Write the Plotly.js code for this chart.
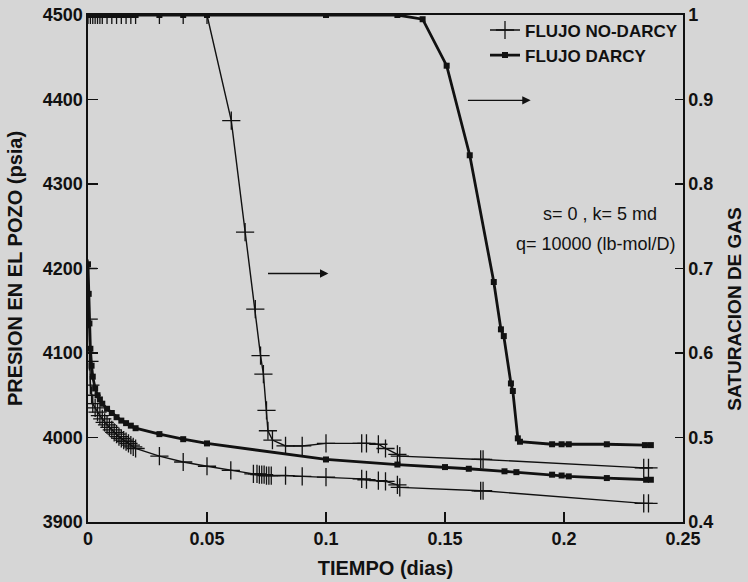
<!DOCTYPE html>
<html>
<head>
<meta charset="utf-8">
<script src="https://cdn.plot.ly/plotly-3.0.1.min.js"></script>
<style>html,body{margin:0;padding:0;background:#d6d6d6;}#chart{width:748px;height:582px;}</style>
</head>
<body>
<div id="chart"></div>
<script>
// ---- Data ----
// Pressure, Darcy flow (psia) vs time (days)
const tPresDarcy = [0, 0.0003, 0.0006, 0.001, 0.0015, 0.002, 0.003, 0.004, 0.005, 0.006, 0.008, 0.010, 0.012, 0.014, 0.016, 0.018, 0.020, 0.030, 0.040, 0.050, 0.100, 0.130, 0.150, 0.160, 0.175, 0.180, 0.195, 0.199, 0.202, 0.218, 0.2345, 0.2365];
const presDarcy  = [4205, 4170, 4135, 4105, 4085, 4072, 4058, 4050, 4045, 4040, 4034, 4029, 4024, 4020, 4017, 4014, 4011, 4004, 3998, 3993, 3974, 3968, 3965, 3963, 3960, 3959, 3956, 3955, 3954, 3952, 3950, 3950];

// Pressure, non-Darcy flow (psia)
const tPresNoDarcy = [0, 0.0003, 0.0006, 0.001, 0.0015, 0.002, 0.003, 0.004, 0.005, 0.006, 0.007, 0.008, 0.009, 0.010, 0.011, 0.012, 0.013, 0.014, 0.015, 0.016, 0.017, 0.018, 0.019, 0.020, 0.030, 0.040, 0.050, 0.060, 0.0695, 0.071, 0.072, 0.073, 0.074, 0.075, 0.076, 0.077, 0.083, 0.090, 0.100, 0.115, 0.117, 0.122, 0.125, 0.130, 0.131, 0.165, 0.166, 0.2335, 0.2355];
const presNoDarcy  = [4200, 4140, 4090, 4062, 4050, 4040, 4035, 4030, 4026, 4022, 4018, 4015, 4012, 4009, 4006, 4004, 4001, 3999, 3997, 3995, 3993, 3991, 3989, 3987, 3978, 3971, 3966, 3961, 3957, 3957, 3956, 3956, 3956, 3955, 3955, 3955, 3955, 3954, 3953, 3951, 3950, 3949, 3948, 3944, 3941, 3937, 3937, 3922, 3922];

// Gas saturation, Darcy flow (fraction)
const tSatDarcy = [0, 0.001, 0.002, 0.003, 0.004, 0.005, 0.006, 0.008, 0.010, 0.012, 0.014, 0.016, 0.018, 0.020, 0.030, 0.040, 0.050, 0.100, 0.130, 0.1406, 0.1507, 0.1604, 0.1705, 0.1735, 0.1747, 0.1777, 0.1785, 0.1806, 0.1815, 0.195, 0.199, 0.202, 0.218, 0.234, 0.2365];
const satDarcy  = [1, 1, 1, 1, 1, 1, 1, 1, 1, 1, 1, 1, 1, 1, 1, 1, 1, 1, 1, 0.995, 0.94, 0.834, 0.684, 0.628, 0.62, 0.564, 0.555, 0.499, 0.495, 0.492, 0.492, 0.492, 0.492, 0.491, 0.491];

// Gas saturation, non-Darcy flow (fraction)
const tSatNoDarcy = [0, 0.001, 0.002, 0.003, 0.004, 0.005, 0.006, 0.008, 0.010, 0.012, 0.014, 0.016, 0.018, 0.020, 0.030, 0.040, 0.050, 0.0602, 0.066, 0.0703, 0.0725, 0.0737, 0.0750, 0.0756, 0.0775, 0.083, 0.090, 0.100, 0.115, 0.117, 0.122, 0.125, 0.130, 0.131, 0.165, 0.166, 0.2335, 0.2355];
const satNoDarcy  = [1, 1, 1, 1, 1, 1, 1, 1, 1, 1, 1, 1, 1, 1, 1, 1, 1, 0.875, 0.743, 0.652, 0.597, 0.575, 0.532, 0.508, 0.497, 0.490, 0.490, 0.493, 0.493, 0.493, 0.492, 0.487, 0.480, 0.478, 0.474, 0.474, 0.464, 0.464];

const seriesNames = ['FLUJO NO-DARCY', 'FLUJO DARCY'];
const xTitle = 'TIEMPO (dias)';
const yTitle = 'PRESION EN EL POZO (psia)';
const y2Title = 'SATURACION DE GAS';
const note1 = 's= 0 , k= 5 md';
const note2 = 'q= 10000 (lb-mol/D)';

// ---- Styles ----
const FONT = '"Liberation Sans", Arial, sans-serif';
const ink = '#111111';
const thinLine = {color: ink, width: 1.4};
const thickLine = {color: ink, width: 2.8};
const crossMarker = {symbol: 'cross-thin-open', size: 13, line: {color: ink, width: 1.3}, color: ink};
const squareMarker = {symbol: 'square', size: 6, color: ink, line: {color: ink, width: 0}};

const traces = [
  {x: tPresNoDarcy, y: presNoDarcy, name: seriesNames[0], mode: 'lines+markers', line: thinLine, marker: crossMarker, yaxis: 'y', showlegend: true},
  {x: tPresDarcy, y: presDarcy, name: seriesNames[1], mode: 'lines+markers', line: thickLine, marker: squareMarker, yaxis: 'y', showlegend: true},
  {x: tSatNoDarcy, y: satNoDarcy, name: seriesNames[0], mode: 'lines+markers', line: thinLine, marker: crossMarker, yaxis: 'y2', showlegend: false},
  {x: tSatDarcy, y: satDarcy, name: seriesNames[1], mode: 'lines+markers', line: thickLine, marker: squareMarker, yaxis: 'y2', showlegend: false}
];

const tickFont = {family: FONT, size: 18, color: ink, weight: 'bold'};
const axisCommon = {
  showline: true, linecolor: ink, linewidth: 1.6,
  ticks: 'inside', ticklen: 10, tickwidth: 1.3, tickcolor: ink,
  showgrid: false, zeroline: false, tickfont: tickFont
};

const layout = {
  width: 748, height: 582,
  paper_bgcolor: '#d6d6d6', plot_bgcolor: '#d6d6d6',
  margin: {l: 88, r: 65, t: 12, b: 60},
  font: {family: FONT, color: ink},
  xaxis: Object.assign({}, axisCommon, {
    range: [0, 0.25], dtick: 0.05, tick0: 0, mirror: true,
    title: {text: xTitle, font: {family: FONT, size: 20, color: ink, weight: 'bold'}, standoff: 13}
  }),
  yaxis: Object.assign({}, axisCommon, {
    range: [3900, 4500], dtick: 100,
    title: {text: yTitle, font: {family: FONT, size: 20, color: ink, weight: 'bold'}, standoff: 15}
  }),
  yaxis2: Object.assign({}, axisCommon, {
    range: [0.4, 1], dtick: 0.1, overlaying: 'y', side: 'right', ticklen: 8
  }),
  legend: {
    x: 1, xanchor: 'right', y: 1.005, yanchor: 'top',
    bgcolor: 'rgba(0,0,0,0)', borderwidth: 0,
    font: {family: FONT, size: 17, color: ink, weight: 'bold'},
    itemwidth: 30, tracegroupgap: 0
  },
  annotations: [
    {xref: 'paper', yref: 'paper', x: 1.085, y: 0.42, text: y2Title, textangle: -90, showarrow: false,
     font: {family: FONT, size: 19, color: ink, weight: 'bold'}, xanchor: 'center', yanchor: 'middle'},
    {xref: 'x', yref: 'y', x: 0.2152, y: 4265, text: note1, showarrow: false,
     font: {family: FONT, size: 18, color: ink}},
    {xref: 'x', yref: 'y', x: 0.2135, y: 4229, text: note2, showarrow: false,
     font: {family: FONT, size: 18, color: ink}},
    {xref: 'x', yref: 'y', axref: 'x', ayref: 'y', x: 0.101, y: 4194, ax: 0.075, ay: 4194,
     showarrow: true, arrowhead: 2, arrowsize: 1.2, arrowwidth: 1.4, arrowcolor: ink, text: ''},
    {xref: 'x', yref: 'y', axref: 'x', ayref: 'y', x: 0.186, y: 4399, ax: 0.159, ay: 4399,
     showarrow: true, arrowhead: 2, arrowsize: 1.2, arrowwidth: 1.4, arrowcolor: ink, text: ''}
  ]
};

Plotly.newPlot('chart', traces, layout, {staticPlot: true, displayModeBar: false});
</script>
</body>
</html>
